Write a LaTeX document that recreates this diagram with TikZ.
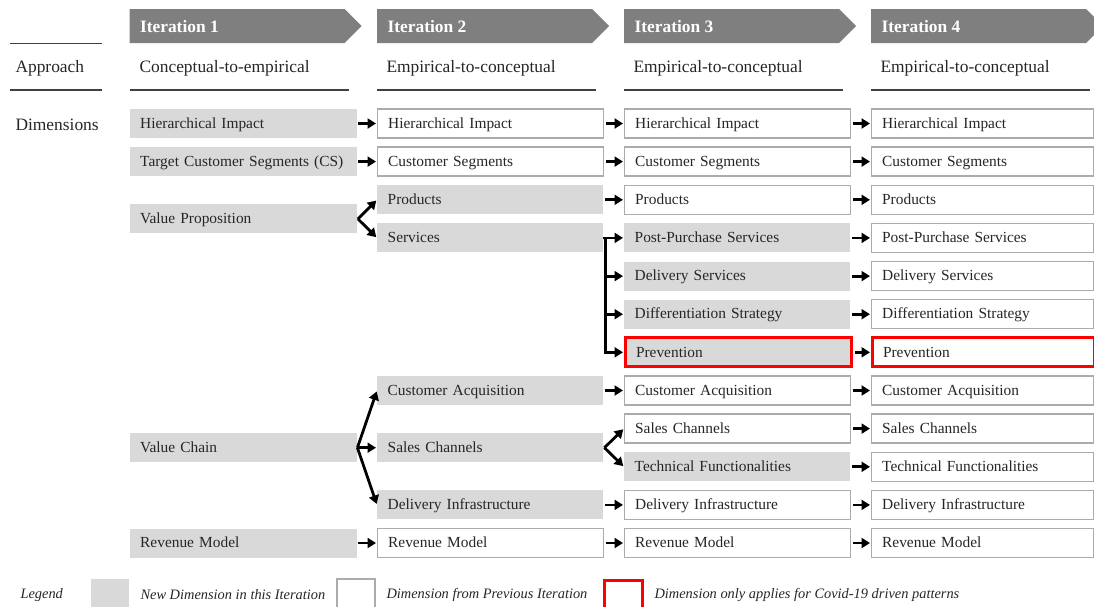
\documentclass[tikz,border=0pt]{standalone}
\usepackage{fontspec}
\setmainfont{Liberation Serif}
\usetikzlibrary{arrows.meta}
\definecolor{hdrgray}{HTML}{7F7F7F}
\definecolor{newgray}{HTML}{D9D9D9}
\definecolor{edgegray}{HTML}{ABABAB}
\definecolor{inkgray}{HTML}{262626}
\definecolor{rulegray}{HTML}{404040}
\definecolor{covidred}{HTML}{FF0000}
\tikzset{
  dimbox/.style={rectangle, anchor=west, text width=#1, align=left,
    inner xsep=10.5pt, inner ysep=0pt, minimum height=29pt,
    text height=12.5pt, text depth=3pt,
    font=\fontsize{15.4}{18}\selectfont, text=inkgray},
  dimbox/.default=205pt,
  newdim/.style={fill=newgray},
  olddim/.style={draw=edgegray, line width=1.3pt, fill=white},
  covid/.style={draw=covidred, line width=3pt},
  flow/.style={line width=2.8pt, -{Triangle[length=8.5pt,width=10pt]},
    shorten <=1.5pt, shorten >=1pt},
  hdrtext/.style={anchor=west, text=white, font=\fontsize{17.4}{20}\selectfont\bfseries},
  approach/.style={anchor=west, text=inkgray, font=\fontsize{17.4}{20}\selectfont},
  legtext/.style={anchor=west, text=inkgray, font=\fontsize{14.4}{16}\selectfont\itshape},
}
\begin{document}
\begin{tikzpicture}[x=1pt,y=-1pt]
\useasboundingbox (0,0) rectangle (1094,606);

% row centres
\def\ra{123.5}\def\rb{161.6}\def\rc{199.8}\def\rd{237.9}
\def\re{276.1}\def\rf{314.2}\def\rg{352.3}\def\rh{390.5}
\def\ri{428.6}\def\rj{466.8}\def\rk{504.9}\def\rl{543}
\def\rvp{218.9}\def\rvc{447.7}

% iteration headers
\foreach \x/\n in {129.5/1,377/2,624/3,871/4}{
  \fill[hdrgray] (\x,9) -- (\x+215,9) -- (\x+232,26) -- (\x+215,43) -- (\x,43) -- cycle;
  \node[hdrtext] (hdr\n) at (\x+7,26.5) {Iteration \n};
  \draw[rulegray, line width=1.5pt] (\x,90) -- (\x+219,90);
}

% row labels
\draw[rulegray, line width=1.5pt] (10,43.5) -- (102,43.5);
\draw[rulegray, line width=1.5pt] (10,90) -- (102,90);
\node[approach] (lblapp) at (12,68.5) {Approach};
\node[approach] (lbldim) at (12,124.5) {Dimensions};
\node[approach] (app1) at (136,68.5) {Conceptual-to-empirical};
\node[approach] (app2) at (383,68.5) {Empirical-to-conceptual};
\node[approach] (app3) at (630,68.5) {Empirical-to-conceptual};
\node[approach] (app4) at (877,68.5) {Empirical-to-conceptual};

% iteration 1
\node[dimbox=206pt, newdim] (A1) at (129.5,\ra) {Hierarchical Impact};
\node[dimbox=206pt, newdim] (A2) at (129.5,\rb) {\mbox{Target Customer Segments (CS)}};
\node[dimbox=206pt, newdim] (AVP) at (129.5,\rvp) {Value Proposition};
\node[dimbox=206pt, newdim] (AVC) at (129.5,\rvc) {Value Chain};
\node[dimbox=206pt, newdim] (A12) at (129.5,\rl) {Revenue Model};

% iteration 2
\node[dimbox, olddim] (B1) at (377,\ra) {Hierarchical Impact};
\node[dimbox, olddim] (B2) at (377,\rb) {Customer Segments};
\node[dimbox, newdim] (B3) at (377,\rc) {Products};
\node[dimbox, newdim] (B4) at (377,\rd) {Services};
\node[dimbox, newdim] (B8) at (377,\rh) {Customer Acquisition};
\node[dimbox, newdim] (BSC) at (377,\rvc) {Sales Channels};
\node[dimbox, newdim] (B11) at (377,\rk) {Delivery Infrastructure};
\node[dimbox, olddim] (B12) at (377,\rl) {Revenue Model};

% iteration 3
\node[dimbox, olddim] (C1) at (624,\ra) {Hierarchical Impact};
\node[dimbox, olddim] (C2) at (624,\rb) {Customer Segments};
\node[dimbox, olddim] (C3) at (624,\rc) {Products};
\node[dimbox, newdim] (C4) at (624,\rd) {Post-Purchase Services};
\node[dimbox, newdim] (C5) at (624,\re) {Delivery Services};
\node[dimbox, newdim] (C6) at (624,\rf) {Differentiation Strategy};
\node[dimbox, newdim, covid] (C7) at (624,\rg) {Prevention};
\node[dimbox, olddim] (C8) at (624,\rh) {Customer Acquisition};
\node[dimbox, olddim] (C9) at (624,\ri) {Sales Channels};
\node[dimbox, newdim] (C10) at (624,\rj) {Technical Functionalities};
\node[dimbox, olddim] (C11) at (624,\rk) {Delivery Infrastructure};
\node[dimbox, olddim] (C12) at (624,\rl) {Revenue Model};

% iteration 4
\node[dimbox=201pt, olddim] (D1) at (871,\ra) {Hierarchical Impact};
\node[dimbox=201pt, olddim] (D2) at (871,\rb) {Customer Segments};
\node[dimbox=201pt, olddim] (D3) at (871,\rc) {Products};
\node[dimbox=201pt, olddim] (D4) at (871,\rd) {Post-Purchase Services};
\node[dimbox=201pt, olddim] (D5) at (871,\re) {Delivery Services};
\node[dimbox=201pt, olddim] (D6) at (871,\rf) {Differentiation Strategy};
\node[dimbox=201pt, olddim, covid] (D7) at (871,\rg) {Prevention};
\node[dimbox=201pt, olddim] (D8) at (871,\rh) {Customer Acquisition};
\node[dimbox=201pt, olddim] (D9) at (871,\ri) {Sales Channels};
\node[dimbox=201pt, olddim] (D10) at (871,\rj) {Technical Functionalities};
\node[dimbox=201pt, olddim] (D11) at (871,\rk) {Delivery Infrastructure};
\node[dimbox=201pt, olddim] (D12) at (871,\rl) {Revenue Model};

% iteration 1 -> 2
\draw[flow] (A1.east) -- (B1.west);
\draw[flow] (A2.east) -- (B2.west);
\draw[flow] (A12.east) -- (B12.west);
\coordinate (vpfork) at ([xshift=1pt]AVP.east);
\draw[flow, shorten <=0pt] (vpfork) -- (B3.west);
\draw[flow, shorten <=0pt] (vpfork) -- (B4.west);
\coordinate (vcfork) at ([xshift=0.5pt]AVC.east);
\draw[flow, shorten <=0pt] (vcfork) -- (B8.west);
\draw[flow, shorten <=0pt] (vcfork) -- (BSC.west);
\draw[flow, shorten <=0pt] (vcfork) -- (B11.west);

% iteration 2 -> 3
\foreach \s/\t in {B1/C1,B2/C2,B3/C3,B8/C8,B11/C11,B12/C12}
  \draw[flow] (\s.east) -- (\t.west);
\coordinate (svbar) at ([xshift=2pt]B4.east);
\draw[line width=2.8pt] (B4.east) -- (svbar) -- (svbar |- C7.west);
\foreach \t in {C4,C5,C6,C7}
  \draw[flow, shorten <=-1.4pt] (svbar |- \t.west) -- (\t.west);
\coordinate (scfork) at ([xshift=1pt]BSC.east);
\draw[flow, shorten <=0pt] (scfork) -- (C9.west);
\draw[flow, shorten <=0pt] (scfork) -- (C10.west);

% iteration 3 -> 4
\foreach \n in {1,...,12}
  \draw[flow] (C\n.east) -- (D\n.west);

% legend
\node[legtext] (legend) at (17,595) {Legend};
\fill[newgray] (91,579) rectangle (129,610);
\node[legtext] (legnew) at (137,595) {New Dimension in this Iteration};
\draw[edgegray, line width=1.3pt, fill=white] (337,579) rectangle (375,612);
\node[legtext] (legold) at (383,595) {Dimension from Previous Iteration};
\draw[covidred, line width=3pt] (604,580.5) rectangle (642,612);
\node[legtext] (legcov) at (651,595) {Dimension only applies for Covid-19 driven patterns};
\end{tikzpicture}
\end{document}
